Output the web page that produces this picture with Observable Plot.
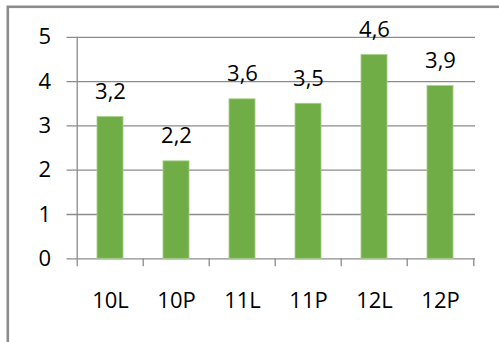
<!DOCTYPE html>
<html>
<head>
<meta charset="utf-8">
<script src="https://cdn.jsdelivr.net/npm/d3@7"></script>
<script src="https://cdn.jsdelivr.net/npm/@observablehq/plot@0.6"></script>
<style>
  html, body { margin: 0; padding: 0; background: #fff; }
  #chart { width: 499px; height: 342px; overflow: hidden; }
  #chart svg { display: block; }
</style>
</head>
<body>
<div id="chart"></div>
<script>
// Class groups and their average scores
const groups = ["10L", "10P", "11L", "11P", "12L", "12P"];
const scores = [3.2, 2.2, 3.6, 3.5, 4.6, 3.9];
const yTicks = [0, 1, 2, 3, 4, 5];

const data = groups.map((g, i) => ({group: g, score: scores[i]}));
const fmt = v => String(v).replace(".", ",");

const font = "'Open Sans', sans-serif";
const gray = "#8c8c8c";
const green = "#70ad47";
const fs = 22;

const W = 499, H = 342;
const mL = 75.5, mR = 24, mT = 36.8, mB = 83.7;
// width of one category band (x scale has no padding; bars are inset)
const band = (W - mL - mR) / groups.length;
const barInset = band * 0.3;

const chart = Plot.plot({
  width: W,
  height: H,
  marginTop: mT,
  marginBottom: mB,
  marginLeft: mL,
  marginRight: mR,
  style: {fontFamily: font, fontSize: fs + "px", color: "#000", background: "#fff", overflow: "visible"},
  x: {domain: groups, padding: 0, label: null},
  y: {domain: [0, 5], label: null},
  marks: [
    // outer chart border (only its top and left edges fall inside the canvas)
    Plot.frame({stroke: gray, strokeWidth: 2.6, insetTop: -30.5, insetLeft: -68.2, insetRight: -60, insetBottom: -120}),
    // horizontal gridlines, each with a short tick left of the axis
    Plot.ruleY(yTicks, {stroke: gray, strokeWidth: 1.3, insetLeft: -9}),
    Plot.barY(data, {x: "group", y: "score", fill: green, stroke: "#a9d18e", strokeWidth: 0.8, insetLeft: barInset, insetRight: barInset}),
    // vertical axis line
    Plot.ruleX(groups.slice(0, 1), {x: d => d, dx: -band / 2, y1: 0, y2: 5, stroke: gray, strokeWidth: 1.3}),
    // category boundary ticks below the baseline
    Plot.ruleX(groups, {x: d => d, dx: -band / 2, y1: 0, y2: 0, insetBottom: -8, stroke: gray, strokeWidth: 1.3}),
    Plot.ruleX(groups.slice(-1), {x: d => d, dx: band / 2, y1: 0, y2: 0, insetBottom: -8, stroke: gray, strokeWidth: 1.3}),
    Plot.axisY(yTicks, {tickSize: 0, tickPadding: 25, fontSize: fs, fill: "#000", textAnchor: "end"}),
    Plot.axisX({tickSize: 0, tickPadding: 34, fontSize: fs, fill: "#000"}),
    Plot.text(data, {x: "group", y: "score", text: d => fmt(d.score), dy: -25, fontSize: fs, fill: "#000"})
  ]
});

document.getElementById("chart").append(chart);
</script>
</body>
</html>
